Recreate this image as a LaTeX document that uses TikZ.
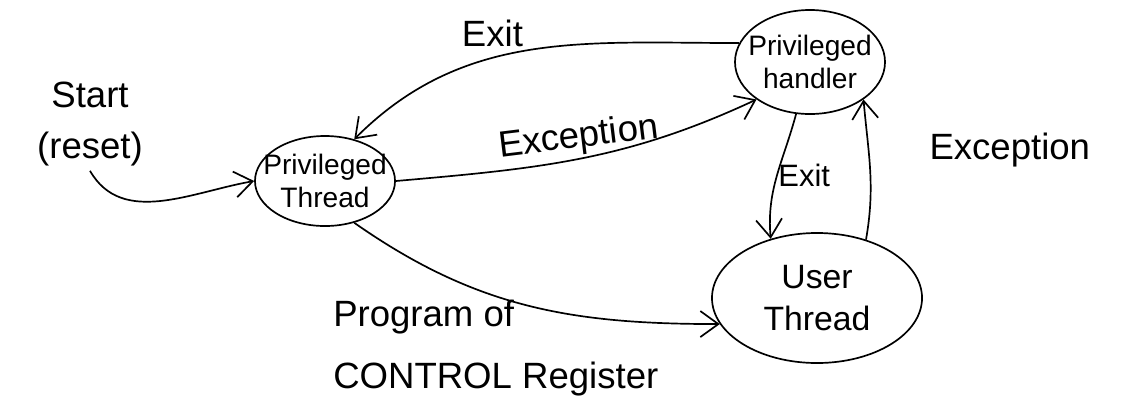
\documentclass[tikz,border=0pt]{standalone}
\usepackage{fontspec}
\setmainfont{Liberation Sans}
\usetikzlibrary{shapes.geometric, arrows.meta}
\tikzstyle{state} = [ellipse, draw=black, line width=1.2pt, inner sep=-0.4cm, align=center, font=\fontsize{20}{24}\selectfont]
\tikzstyle{note} = [align=center, font=\fontsize{26}{36}\selectfont]
\tikzstyle{smallnote} = [font=\fontsize{22}{26}\selectfont]
\tikzstyle{arrow} = [line width=1.2pt,->,>={Straight Barb[length=4.5mm, width=6.5mm]}]

\begin{document}
\begin{tikzpicture}[x=0.025cm, y=-0.025cm]
    \useasboundingbox (0,0) rectangle (1122,417);
    % Nodes
    \node (pthread) [state, minimum width=3.5cm, minimum height=2.25cm] at (325,181) {Privileged\\Thread};
    \node (handler) [state, minimum width=3.75cm, minimum height=2.6cm] at (810,62) {Privileged\\handler};
    \node (user) [state, minimum width=5.25cm, minimum height=3.25cm, font=\fontsize{24}{30}\selectfont] at (817,298) {User\\Thread};
    \node (start) [note] at (90,124) {Start\\(reset)};
    % Arrows
    \draw [arrow] (start.south) to[out=-60, in=190] (pthread.west);
    \draw [arrow] (handler.165) to[out=180, in=45] node[pos=0.6, above, yshift=0.15cm, note] {Exit} (pthread.55);
    \draw [arrow] (pthread.east) to[out=5, in=205] node[pos=0.5, above, rotate=7, yshift=-0.05cm, note] {Exception} (handler.215);
    \draw [arrow] (handler.255) to[out=-105, in=95] node[pos=0.5, right, xshift=-0.1cm, smallnote] {Exit} (user.128);
    \draw [arrow] (user.50) to[out=80, in=-85] node[pos=0.7, right=1.4cm, yshift=-0.15cm, note] {Exception} (handler.325);
    \draw [arrow] (pthread.305) to[out=-35, in=180] node[pos=0.25, anchor=north west, xshift=-2.85cm, yshift=-0.5cm, align=left, font=\fontsize{26}{44}\selectfont] {Program of\\CONTROL Register} (user.195);
\end{tikzpicture}
\end{document}
